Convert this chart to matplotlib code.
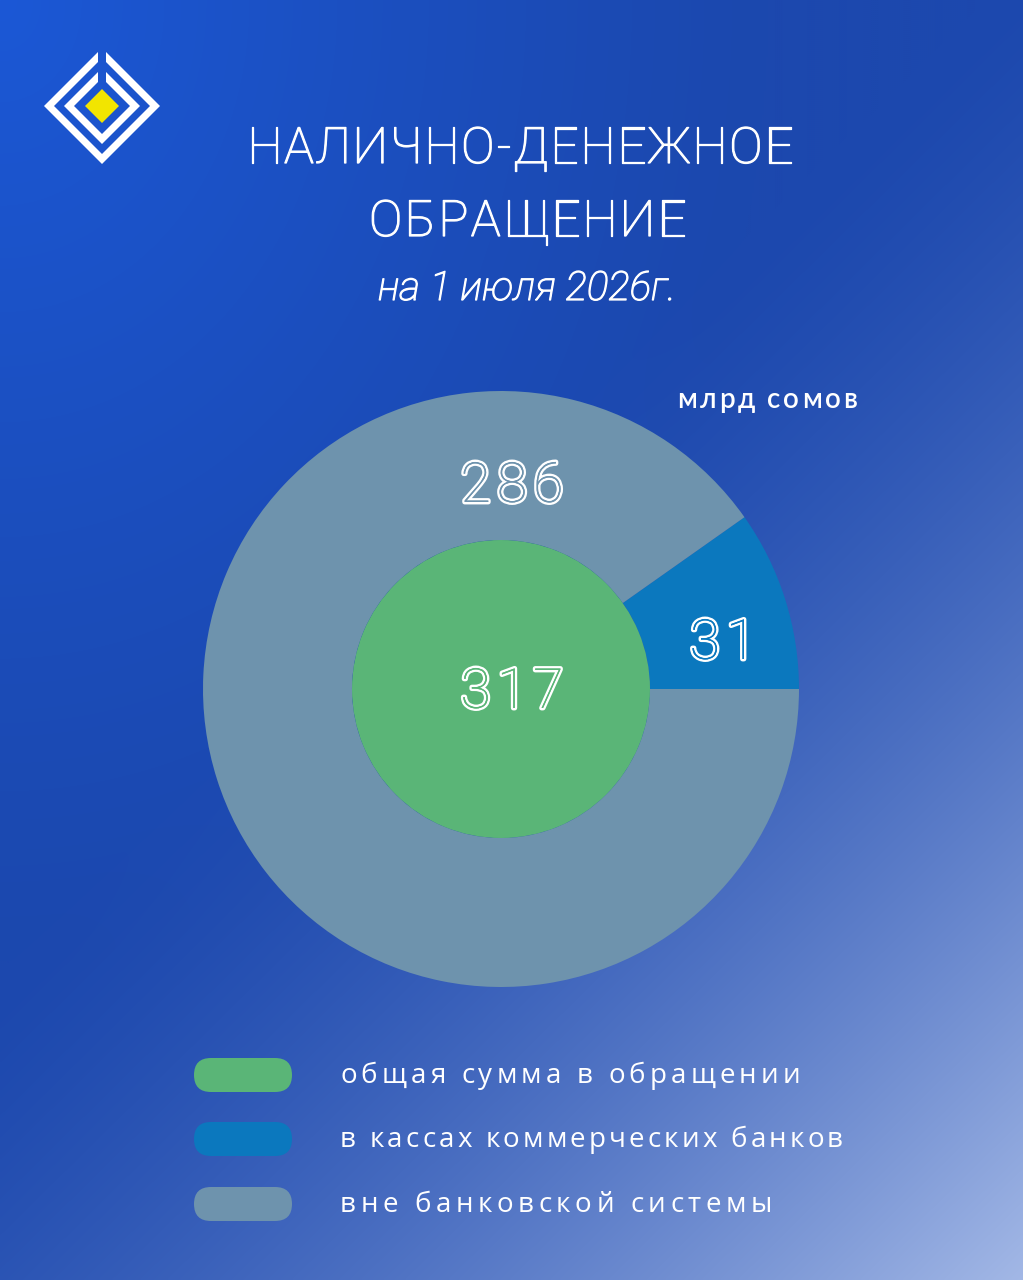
import numpy as np
import matplotlib
matplotlib.use("Agg")
import matplotlib.pyplot as plt
from matplotlib.patches import Polygon, FancyBboxPatch
from matplotlib.colors import to_rgb
import matplotlib.patheffects as pe

W, H = 1023, 1280

# ---- data ----
title_lines = ["НАЛИЧНО-ДЕНЕЖНОЕ", "ОБРАЩЕНИЕ"]
subtitle = "на 1 июля 2026г."
unit_label = "млрд сомов"
total_label = "общая сумма в обращении"
total_value = 317
ring_labels = ["в кассах коммерческих банков", "вне банковской системы"]
ring_values = [31, 286]
legend_labels = [total_label] + ring_labels
colors = ["#5ab577", "#0b78be", "#6e93ad"]

FONT = ["Lato", "DejaVu Sans"]
TFONT = ["Roboto", "DejaVu Sans"]

fig = plt.figure(figsize=(W / 100, H / 100), dpi=100)
bg = fig.add_axes([0, 0, 1, 1])
bg.set_xlim(0, W)
bg.set_ylim(H, 0)
bg.axis("off")

# ---- gradient background ----
yy, xx = np.mgrid[0:H:2, 0:W:2].astype(float)
xn, yn = xx / W, yy / H
base_tl = np.array(to_rgb("#1b58d6"))
base = np.array(to_rgb("#1c48ae"))
light = np.array(to_rgb("#a3b8e6"))
v = np.clip(1 - np.sqrt(xn ** 2 + yn ** 2) / 0.75, 0, 1) ** 1.2
img = base[None, None, :] * (1 - v[..., None]) + base_tl[None, None, :] * v[..., None]
u = xn * 0.88 + yn * 1.12
w = np.clip((u - 0.85) / 1.15, 0, 1) ** 1.5
img = img * (1 - w[..., None]) + light[None, None, :] * w[..., None]
bg.imshow(img, extent=[0, W, H, 0], aspect="auto", zorder=0, interpolation="bilinear")


# ---- logo ----
def band(cx, cy, R, Ri, g):
    outer = [(cx - g, cy - R + g), (cx - R, cy), (cx, cy + R), (cx + R, cy), (cx + g, cy - R + g)]
    inner = [(cx + g, cy - Ri + g), (cx + Ri, cy), (cx, cy + Ri), (cx - Ri, cy), (cx - g, cy - Ri + g)]
    return outer + inner

cx, cy = 102, 106
bg.add_patch(Polygon(band(cx, cy, 58, 48, 4), closed=True, fc="white", ec="none", zorder=3))
bg.add_patch(Polygon(band(cx, cy, 38, 28, 4), closed=True, fc="white", ec="none", zorder=3))
bg.add_patch(Polygon([(cx, cy - 17), (cx + 17, cy), (cx, cy + 17), (cx - 17, cy)], closed=True,
                     fc="#f2e500", ec="none", zorder=3))

# ---- tracked text helper ----
renderer = fig.canvas.get_renderer()


def text_width(axx, s, **kw):
    t = axx.text(0, 0, s, **kw)
    wdt = t.get_window_extent(renderer).width
    t.remove()
    return wdt


def char_widths(axx, s, **kw):
    ref = text_width(axx, "||", **kw)
    return [text_width(axx, "|" + ch + "|", **kw) - ref for ch in s]


def place(axx, s, widths, x0, track, y, effects=None, **kw):
    x = x0
    for ch, wd in zip(s, widths):
        t = axx.text(x, y, ch, ha="left", va="baseline", **kw)
        if effects:
            t.set_path_effects(effects)
        x += wd + track


def tracked(axx, s, x0, x1, y, effects=None, **kw):
    widths = char_widths(axx, s, **kw)
    track = (x1 - x0 - sum(widths)) / max(len(s) - 1, 1)
    place(axx, s, widths, x0, track, y, effects, **kw)


def tracked_center(axx, s, xc, track, y, effects=None, **kw):
    widths = char_widths(axx, s, **kw)
    total = sum(widths) + track * (len(s) - 1)
    place(axx, s, widths, xc - total / 2, track, y, effects, **kw)


# ---- titles ----
thick = [pe.withStroke(linewidth=0.9, foreground="white")]
tk = dict(color="white", family=TFONT, fontsize=36, fontweight="light", zorder=4)
tracked(bg, title_lines[0], 247, 793, 163, effects=thick, **tk)
tracked(bg, title_lines[1], 369, 686, 236, effects=thick, **tk)
tracked(bg, subtitle, 378, 676, 300, effects=thick, color="white", family=TFONT, fontsize=29,
        style="italic", fontweight="light", zorder=4)
tracked(bg, unit_label, 677, 857, 408, color="white", family=FONT, fontsize=20, fontweight="semibold", zorder=4)

# ---- donut ----
ccx, ccy, R = 501, 689, 298
ax = fig.add_axes([(ccx - R) / W, (H - ccy - R) / H, 2 * R / W, 2 * R / H])
ax.pie(ring_values, radius=1.0, startangle=0, counterclock=True, colors=colors[1:],
       wedgeprops=dict(width=0.5, linewidth=0))
ax.pie([total_value], radius=0.5, startangle=90, colors=colors[:1], wedgeprops=dict(linewidth=0))
ax.set_xlim(-1, 1)
ax.set_ylim(-1, 1)
ax.set_aspect("equal")
ax.axis("off")

# overlay axes for the outlined numbers (pixel coordinates)
top = fig.add_axes([0, 0, 1, 1])
top.set_xlim(0, W)
top.set_ylim(H, 0)
top.axis("off")
top.patch.set_alpha(0)


def outlined(s, xc, y, fill):
    eff = [pe.withStroke(linewidth=3.5, foreground="white"), pe.Normal()]
    tracked_center(top, s, xc, 6, y, effects=eff, color=fill, family=TFONT, fontsize=40,
                   fontweight="light", zorder=6)

outlined(str(ring_values[1]), 512, 502, colors[2])
outlined(str(ring_values[0]), 723, 659, colors[1])
outlined(str(total_value), 512, 708, colors[0])

# ---- legend ----
rows = [1075, 1139, 1204]
for lab, col, yc in zip(legend_labels, colors, rows):
    bg.add_patch(FancyBboxPatch((194, yc - 17), 98, 34,
                                boxstyle="round,pad=0,rounding_size=17",
                                fc=col, ec="none", zorder=3))
legend_spans = [(340, 800), (340, 843), (340, 772)]
for lab, yc, (x0, x1) in zip(legend_labels, rows, legend_spans):
    tracked(bg, lab, x0, x1, yc + 8, color="white", family=["Open Sans", "DejaVu Sans"], fontsize=20, zorder=4)

fig.savefig("out.png", dpi=100)
